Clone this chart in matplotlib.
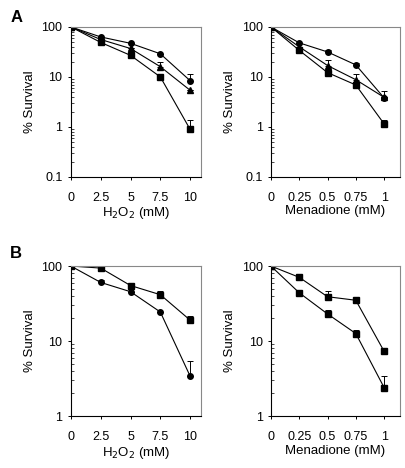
import numpy as np
import matplotlib
matplotlib.use("Agg")
import matplotlib.pyplot as plt
from matplotlib.ticker import LogLocator, FixedLocator, NullFormatter

plt.rcParams['font.family'] = ['Liberation Sans', 'DejaVu Sans']

# panel A, H2O2
h2o2 = [0, 2.5, 5, 7.5, 10]
a_h_circle = [100, 63, 47, 29, 8.4]
a_h_circle_err = [0, 0, 0, 0, 3.2]
a_h_tri = [100, 56, 37, 16, 5.4]
a_h_tri_err = [0, 0, 0, 4, 0]
a_h_sq = [100, 49, 27, 10, 0.89]
a_h_sq_err = [0, 0, 0, 0, 0.47]

# panel A, menadione
mena = [0, 0.25, 0.5, 0.75, 1]
a_m_circle = [100, 48, 31.6, 17.4, 3.8]
a_m_circle_err = [0, 0, 2.5, 1.8, 1.4]
a_m_tri = [100, 40, 16.9, 8.8, 3.9]
a_m_tri_err = [0, 0, 5, 2.8, 0]
a_m_sq = [100, 34, 12.2, 6.9, 1.15]
a_m_sq_err = [0, 0, 0, 0, 0.25]

# panel B, H2O2
b_h_sq = [100, 94, 55, 41.5, 19]
b_h_sq_err = [0, 0, 0, 4.5, 2.9]
b_h_circle = [100, 60.5, 45.5, 24.4, 3.4]
b_h_circle_err = [0, 4.5, 0, 0, 2.0]

# panel B, menadione
b_m_sq = [100, 70.8, 39, 35, 7.3]
b_m_sq_err = [0, 0, 7, 0, 0.9]
b_m_circle = [100, 44, 23, 12.6, 2.4]
b_m_circle_err = [0, 0, 3, 1.4, 1.0]

fig = plt.figure(figsize=(4.05, 4.68), dpi=100)

def make_ax(rect, xticks, xticklabels, xmax, ymin, yticks, yticklabels, xlabel):
    ax = fig.add_axes(rect)
    ax.set_yscale('log')
    ax.set_xlim(0, xmax)
    ax.set_ylim(ymin, 100)
    ax.xaxis.set_major_locator(FixedLocator(xticks))
    ax.set_xticklabels(xticklabels)
    ax.yaxis.set_major_locator(FixedLocator(yticks))
    ax.set_yticklabels(yticklabels)
    ax.yaxis.set_minor_locator(LogLocator(base=10, subs=np.arange(2, 10)))
    ax.yaxis.set_minor_formatter(NullFormatter())
    ax.tick_params(axis='both', which='major', direction='out', length=2.5, width=0.7,
                   labelsize=9)
    ax.tick_params(axis='y', which='major', pad=3.5)
    ax.tick_params(axis='x', which='major', pad=8.5)
    ax.tick_params(axis='y', which='minor', direction='in', length=2, width=0.5)
    for s in ['left', 'bottom']:
        ax.spines[s].set_linewidth(0.8)
    for s in ['top', 'right']:
        ax.spines[s].set_color('#888888')
        ax.spines[s].set_linewidth(0.8)
    ax.set_ylabel('% Survival', fontsize=9.5)
    ax.yaxis.set_label_coords(-0.27, 0.5)
    ax.set_xlabel(xlabel, fontsize=9.5)
    ax.xaxis.set_label_coords(0.5, -0.19)
    return ax

def series(ax, x, y, err, marker, ms):
    y = np.array(y)
    err = np.array(err)
    ax.errorbar(x, y, yerr=[np.zeros_like(err), err], fmt='-', marker=marker, ms=ms,
                color='black', lw=0.8, elinewidth=0.7, capsize=2.5, capthick=0.7)

w = 0.321
h = 0.3205
ax1 = make_ax([0.175, 0.622, w, h], h2o2, ['0', '2.5', '5', '7.5', '10'], 10.9,
              0.1, [0.1, 1, 10, 100], ['0.1', '1', '10', '100'], r'H$_2$O$_2$ (mM)')
series(ax1, h2o2, a_h_circle, a_h_circle_err, 'o', 4)
series(ax1, h2o2, a_h_tri, a_h_tri_err, '^', 4.5)
series(ax1, h2o2, a_h_sq, a_h_sq_err, 's', 4)

ax2 = make_ax([0.669, 0.622, 0.3185, h], mena, ['0', '0.25', '0.5', '0.75', '1'], 1.14,
              0.1, [0.1, 1, 10, 100], ['0.1', '1', '10', '100'], 'Menadione (mM)')
series(ax2, mena, a_m_circle, a_m_circle_err, 'o', 4)
series(ax2, mena, a_m_tri, a_m_tri_err, '^', 4.5)
series(ax2, mena, a_m_sq, a_m_sq_err, 's', 4)

ax3 = make_ax([0.175, 0.111, w, h], h2o2, ['0', '2.5', '5', '7.5', '10'], 10.9,
              1, [1, 10, 100], ['1', '10', '100'], r'H$_2$O$_2$ (mM)')
series(ax3, h2o2, b_h_sq, b_h_sq_err, 's', 4)
series(ax3, h2o2, b_h_circle, b_h_circle_err, 'o', 4)

ax4 = make_ax([0.669, 0.111, 0.3185, h], mena, ['0', '0.25', '0.5', '0.75', '1'], 1.14,
              1, [1, 10, 100], ['1', '10', '100'], 'Menadione (mM)')
series(ax4, mena, b_m_sq, b_m_sq_err, 's', 4)
series(ax4, mena, b_m_circle, b_m_circle_err, 's', 4)

fig.text(0.025, 0.963, 'A', fontsize=12, fontweight='bold', va='center')
fig.text(0.025, 0.459, 'B', fontsize=12, fontweight='bold', va='center')

fig.savefig('out.png', dpi=100)
